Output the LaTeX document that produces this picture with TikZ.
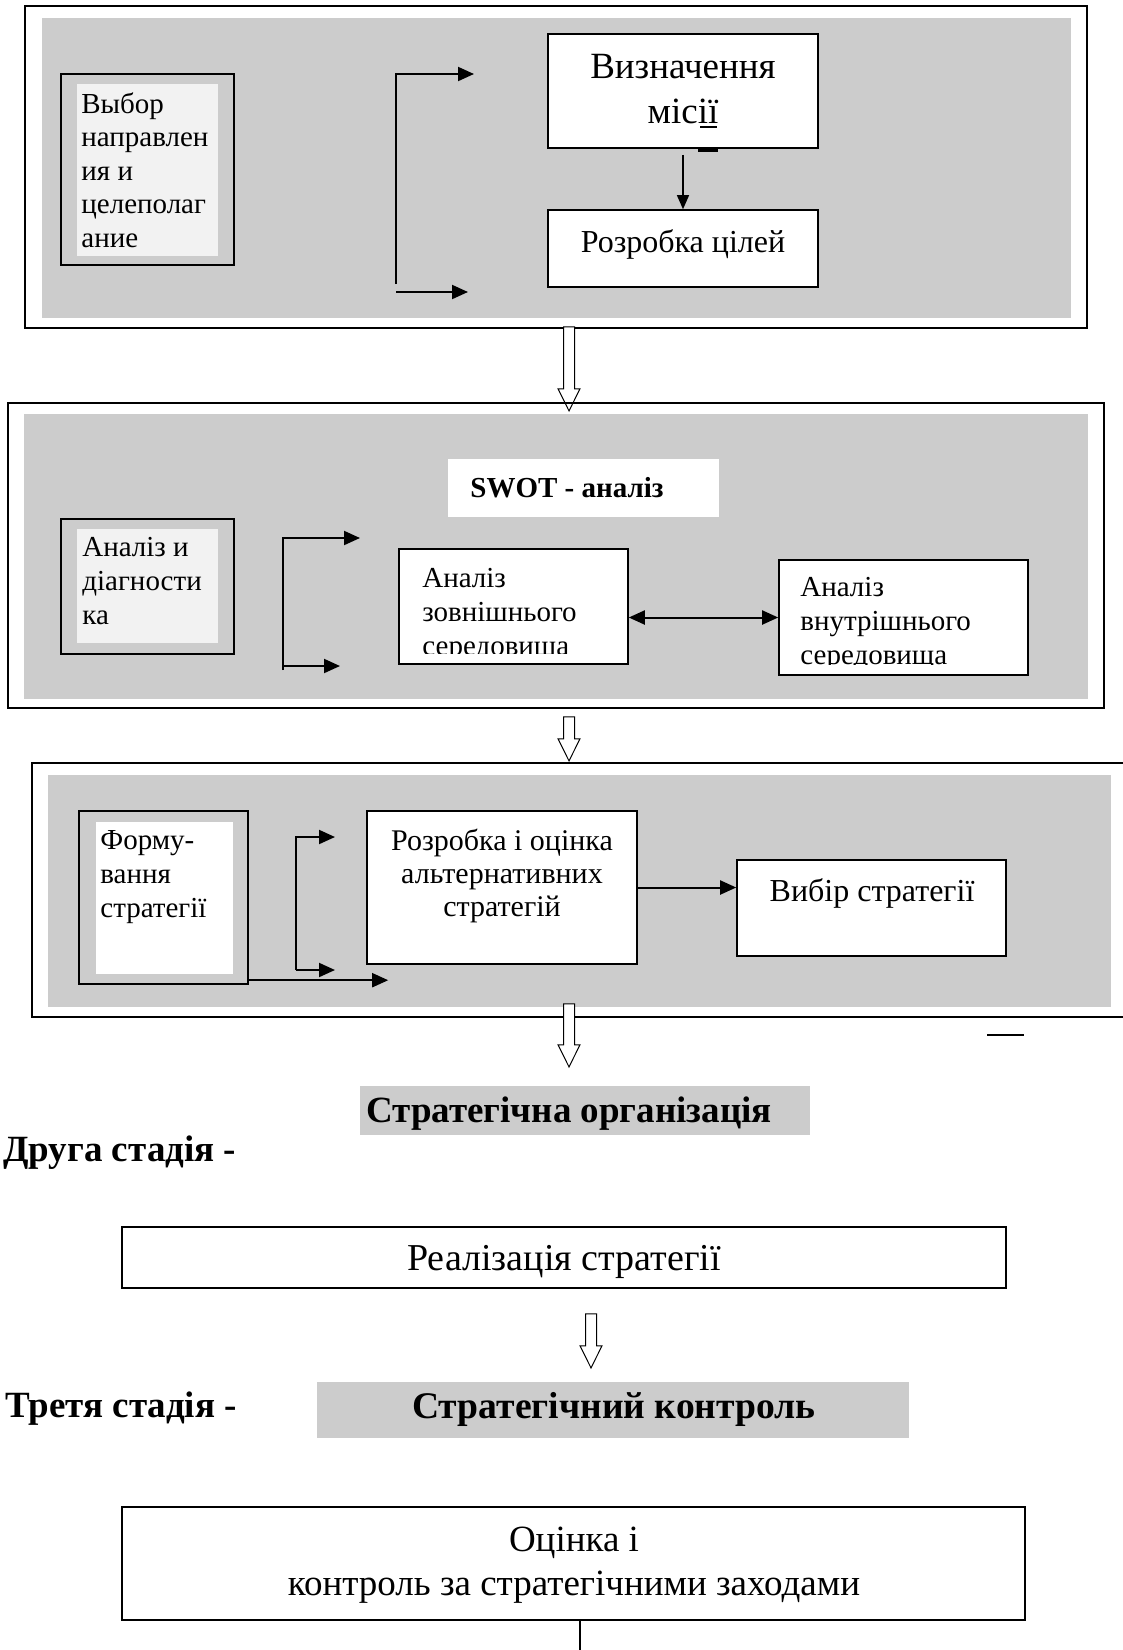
\documentclass[tikz,border=0pt]{standalone}
\usepackage{fontspec}
\setmainfont{Liberation Serif}
\usepackage{xcolor}
\definecolor{panelgray}{RGB}{204,204,204}
\definecolor{palegray}{RGB}{242,242,242}
\usetikzlibrary{positioning,fit,calc,shapes.arrows,arrows.meta}

\begin{document}
\begin{tikzpicture}[x=0.5pt,y=-0.5pt,
	box/.style={draw,line width=0.8pt,fill=white,inner sep=0},
	panel/.style={fill=panelgray,inner sep=0},
	hollow/.style={single arrow,draw,fill=white,line width=0.5pt,rotate=-90,anchor=tip,inner xsep=0,inner ysep=2.5pt,minimum width=0,single arrow head extend=2.75pt,single arrow tip angle=53},
	tip/.style={-{Triangle[length=8pt,width=7pt]},line width=1pt},
	thintip/.style={-{Triangle[length=7pt,width=6pt]},line width=0.6pt},
	txt/.style={inner sep=0,align=left,font=\fontsize{14.5}{16.8}\selectfont},
	heading/.style={inner sep=0,font=\bfseries\fontsize{18.5}{20}\selectfont}]
	\useasboundingbox (0,0) rectangle (1123,1650);
	% first stage
	\draw[line width=1pt] (25,6) rectangle (1087,328);
	\fill[panelgray] (42,18) rectangle (1071,318);
	\node[box,fill=panelgray,line width=1.2pt,fit={(61,74) (234,265)}] (vybor) {};
	\node[fill=palegray,inner sep=0,fit={(77,84) (218,256)}] (vyborin) {};
	\node[txt,anchor=west] (tvybor) at (81,170) {Выбор\\направлен\\ия и\\целеполаг\\ание};
	\coordinate (b1low) at (396,284);
	\coordinate (b1top) at (396,74);
	\coordinate (b1foot) at (396,292);
	\draw[tip] (b1low) -- (b1top) -- ++(78,0);
	\draw[tip] (b1foot) -- ++(72,0);
	\node[box,fit={(548,34) (818,148)}] (misia) {};
	\node[inner sep=0,align=center,font=\fontsize{18.5}{22.5}\selectfont] (tmisia) at (683,89) {Визначення\\місії};
	\draw[line width=0.6pt] (700,127) -- (717,127);
	\draw[line width=1.5pt] (698,150) -- (718,150);
	\node[box,fit={(548,210) (818,287)}] (cili) {};
	\node[inner sep=0,font=\fontsize{16}{19}\selectfont] (tcili) at (683,244) {Розробка цілей};
	\draw[thintip] ([yshift=-3pt]misia.south) -- (cili.north);
	\node[hollow,minimum height=42pt] (h1) at (569,412) {};
	% analysis
	\draw[line width=1pt] (8,403) rectangle (1104,708);
	\fill[panelgray] (24,414) rectangle (1088,699);
	\node[fill=white,inner sep=0,fit={(448,459) (719,517)}] (swot) {};
	\node[inner sep=0,anchor=west,font=\bfseries\fontsize{14.5}{17}\selectfont] (tswot) at (470,488) {SWOT - аналіз};
	\node[box,fill=panelgray,line width=1.2pt,fit={(61,519) (234,654)}] (analiz) {};
	\node[fill=palegray,inner sep=0,fit={(77,529) (218,643)}] (analizin) {};
	\node[txt,anchor=west] (tanaliz) at (82,581) {Аналіз и\\діагности\\ка};
	\coordinate (b2low) at (283,670);
	\coordinate (b2top) at (283,538);
	\coordinate (b2foot) at (283,666);
	\draw[tip] (b2low) -- (b2top) -- ++(77,0);
	\draw[tip] (b2foot) -- ++(57,0);
	\node[box,fit={(399,549) (628,664)}] (zovn) {};
	\begin{scope}
		\clip (zovn.north west) rectangle (628,653);
		\node[txt,anchor=west] (tzovn) at (422,615) {Аналіз\\зовнішнього\\середовища};
	\end{scope}
	\node[box,fit={(779,560) (1028,675)}] (vnutr) {};
	\begin{scope}
		\clip (vnutr.north west) rectangle (1028,664);
		\node[txt,anchor=west] (tvnutr) at (800,624) {Аналіз\\внутрішнього\\середовища};
	\end{scope}
	\draw[{Triangle[length=8pt,width=7pt]}-{Triangle[length=8pt,width=7pt]},line width=1pt] (vnutr.west -| zovn.east) -- (vnutr.west);
	\node[hollow,minimum height=22pt] (h2) at (569,762) {};
	% strategy
	\draw[line width=1pt] (1123,763) -- (32,763) -- (32,1017) -- (1123,1017);
	\fill[panelgray] (48,775) rectangle (1111,1007);
	\node[box,fill=panelgray,line width=1.2pt,fit={(79,811) (248,984)}] (form) {};
	\node[fill=white,inner sep=0,fit={(96,822) (233,974)}] (formin) {};
	\node[txt,anchor=west] (tform) at (100,877) {Форму-\\вання\\стратегії};
	\coordinate (b3low) at (296,970);
	\coordinate (b3top) at (296,837);
	\draw[tip] (b3low) -- (b3top) -- ++(39,0);
	\draw[tip] (b3low) -- ++(39,0);
	\draw[tip] ([yshift=2.5pt]form.south east) -- ++(139,0);
	\node[box,fit={(367,811) (637,964)}] (alter) {};
	\node[inner sep=0,align=center,font=\fontsize{15}{16.5}\selectfont] (talter) at (502,876) {Розробка і оцінка\\альтернативних\\стратегій};
	\node[box,fit={(737,860) (1006,956)}] (vybir) {};
	\node[inner sep=0,font=\fontsize{16}{19}\selectfont] (tvybir) at (872,893) {Вибір стратегії};
	\draw[tip] (alter.east) -- (alter.east -| vybir.west);
	\draw[line width=1pt] (987,1035) -- (1024,1035);
	\node[hollow,minimum height=31.5pt] (h3) at (569,1068) {};
	% second and third stage
	\node[panel,fit={(360,1086) (810,1135)}] (org) {};
	\node[heading] (torg) at (569,1114) {Стратегічна організація};
	\node[heading,anchor=west] (stage2) at (3,1153) {Друга стадія -};
	\node[box,fit={(122,1227) (1006,1288)}] (realiz) {};
	\node[inner sep=0,font=\fontsize{19}{22}\selectfont] (trealiz) at (564,1262) {Реалізація стратегії};
	\node[hollow,minimum height=27pt] (h4) at (591,1369) {};
	\node[heading,anchor=west] (stage3) at (5,1409) {Третя стадія -};
	\node[panel,fit={(317,1382) (909,1438)}] (control) {};
	\node[heading,font=\bfseries\fontsize{18.8}{20}\selectfont] (tcontrol) at (614,1409) {Стратегічний контроль};
	\node[box,fit={(122,1507) (1025,1620)}] (ocinka) {};
	\node[inner sep=0,align=center,font=\fontsize{18.5}{22}\selectfont] (tocinka) at (574,1565) {Оцінка і\\контроль за стратегічними заходами};
	\coordinate (tail) at (580,1650);
	\draw[line width=0.6pt] (tail |- ocinka.south) -- (tail);
\end{tikzpicture}
\end{document}
